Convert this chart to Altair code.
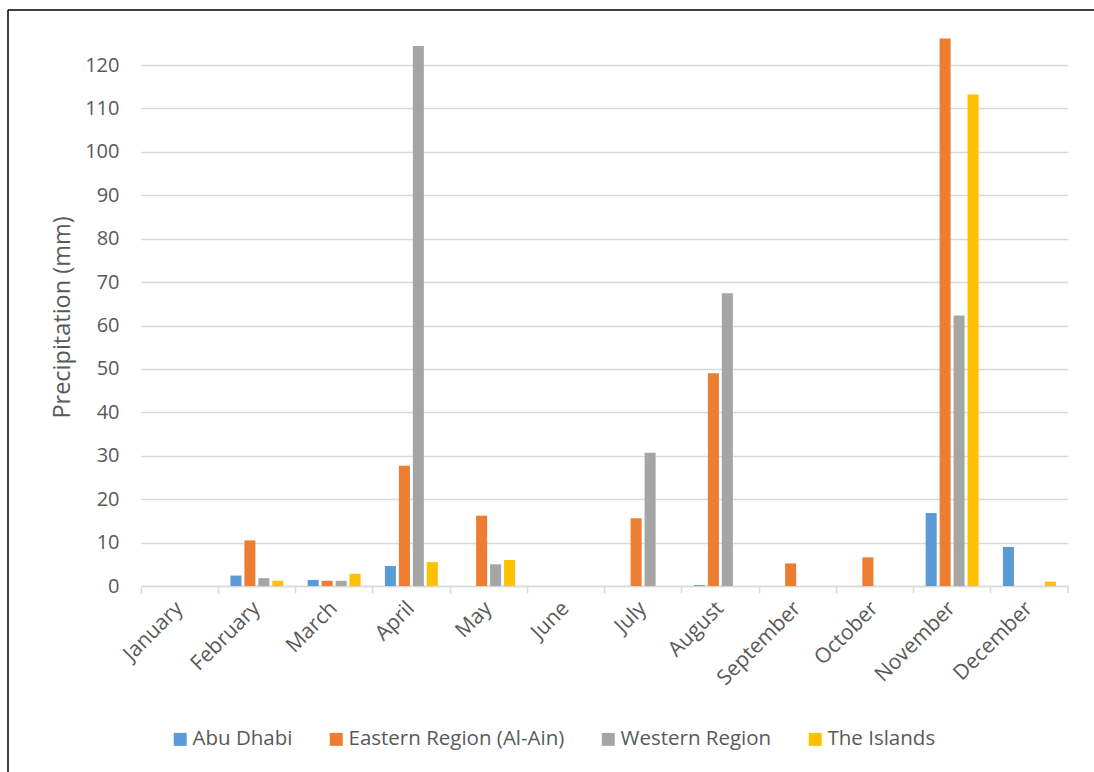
import altair as alt
import pandas as pd

# Monthly precipitation (mm) by region
months = ["January", "February", "March", "April", "May", "June",
          "July", "August", "September", "October", "November", "December"]
regions = ["Abu Dhabi", "Eastern Region (Al-Ain)", "Western Region", "The Islands"]

abu_dhabi = [0, 2.4, 1.4, 4.6, 0, 0, 0, 0.2, 0, 0, 16.8, 9.0]
eastern = [0, 10.5, 1.2, 27.7, 16.2, 0, 15.6, 49.0, 5.2, 6.6, 126.1, 0]
western = [0, 1.8, 1.2, 124.4, 5.0, 0, 30.7, 67.4, 0, 0, 62.3, 0]
islands = [0, 1.2, 2.8, 5.5, 6.0, 0, 0, 0, 0, 0, 113.2, 1.0]

colors = ["#5B9BD5", "#ED7D31", "#A5A5A5", "#FFC000"]
y_ticks = list(range(0, 121, 10))

rows = []
for region, vals in zip(regions, [abu_dhabi, eastern, western, islands]):
    for m, v in zip(months, vals):
        rows.append({"Month": m, "Region": region, "Precipitation": v})
df = pd.DataFrame(rows)

W, H = 927, 521
FONT = "Open Sans"
GREY = "#595959"
LINE = "#d9d9d9"

bars = alt.Chart(df).mark_bar().encode(
    x=alt.X("Month:N", sort=months,
            scale=alt.Scale(paddingInner=0, paddingOuter=0),
            axis=alt.Axis(title=None, labelAngle=-45, labelAlign="right",
                          labelBaseline="middle", labelPadding=12,
                          bandPosition=0,
                          tickSize=7, tickColor=LINE, tickWidth=1.5,
                          domainColor=LINE, domainWidth=1.5,
                          labelFont=FONT, labelFontSize=21, labelColor=GREY)),
    xOffset=alt.XOffset("Region:N", sort=regions,
                        scale=alt.Scale(domain=regions, paddingInner=0.21, paddingOuter=0.87)),
    y=alt.Y("Precipitation:Q",
            scale=alt.Scale(domain=[0, 120], nice=False),
            axis=alt.Axis(title="Precipitation (mm)", values=y_ticks,
                          domain=False, ticks=False, grid=True,
                          gridColor=LINE, gridWidth=1.5,
                          labelFont=FONT, labelFontSize=20, labelColor=GREY,
                          labelPadding=22,
                          titleFont=FONT, titleFontSize=23.5, titleColor=GREY,
                          titleFontWeight="normal", titleAngle=-90,
                          titleX=-79, titleY=252, titleBaseline="middle",
                          titleAlign="center")),
    color=alt.Color("Region:N", sort=regions,
                    scale=alt.Scale(domain=regions, range=colors),
                    legend=alt.Legend(title=None, orient="none", direction="horizontal",
                                      legendX=29, legendY=664, padding=0,
                                      symbolType="square", symbolSize=169,
                                      symbolStrokeWidth=0, labelOffset=2,
                                      columnPadding=33,
                                      labelFont=FONT, labelFontSize=20.5,
                                      labelColor=GREY, labelLimit=400)),
)

# closing tick at the right end of the category axis
end_tick = alt.Chart(pd.DataFrame({"k": [0]})).mark_rule(
    color=LINE, strokeWidth=1.5
).encode(x=alt.value(W), y=alt.value(H), y2=alt.value(H + 7))

# chart frame (top and left edges)
frame_top = alt.Chart(pd.DataFrame({"k": [0]})).mark_rule(
    color="black", strokeWidth=1.5
).encode(x=alt.value(-133), x2=alt.value(1094 - 141), y=alt.value(-55))
frame_left = alt.Chart(pd.DataFrame({"k": [0]})).mark_rule(
    color="black", strokeWidth=1.5
).encode(x=alt.value(-133), y=alt.value(-55), y2=alt.value(772 - 65))

chart = alt.layer(bars, end_tick, frame_top, frame_left).properties(
    width=W, height=H,
    autosize=alt.AutoSizeParams(type="none"),
    padding={"left": 141, "top": 65, "right": 26, "bottom": 186},
    background="white",
).configure_view(stroke=None)

chart.save("out.html", embed_options={"renderer": "svg", "actions": False})
